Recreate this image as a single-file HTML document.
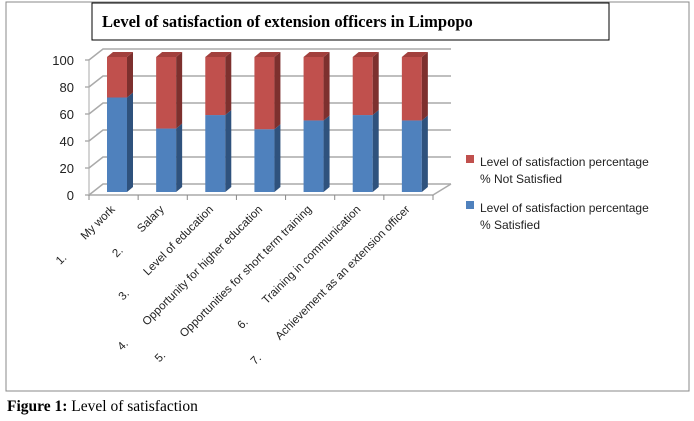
<!DOCTYPE html>
<html><head><meta charset="utf-8"><style>
body{margin:0;background:#fff;width:694px;height:421px;overflow:hidden}
svg{display:block}
</style></head><body>
<svg width="694" height="421" id="svg">
<rect x="6" y="2" width="683" height="389" fill="#fff" stroke="#888"/>
<rect x="92" y="3" width="517" height="37" fill="#fff" stroke="#000"/>
<text x="102" y="27" font-family="Liberation Serif, serif" font-weight="bold" font-size="16.5">Level of satisfaction of extension officers in Limpopo</text>
<g id="plot"></g>
<rect x="466" y="155" width="8" height="8" fill="#c0504d"/>
<text x="480" y="166" font-family="Liberation Sans, sans-serif" font-size="12" fill="#222"><tspan x="480">Level of satisfaction percentage</tspan><tspan x="480" dy="17">% Not Satisfied</tspan></text>
<rect x="466" y="201" width="8" height="8" fill="#4f81bd"/>
<text x="480" y="212" font-family="Liberation Sans, sans-serif" font-size="12" fill="#222"><tspan x="480">Level of satisfaction percentage</tspan><tspan x="480" dy="17">% Satisfied</tspan></text>
<text x="7" y="411" font-family="Liberation Serif, serif" font-size="15.5"><tspan font-weight="bold">Figure 1:</tspan> Level of satisfaction</text>
</svg>
<script>
const categories=["1.\u00a0\u00a0\u00a0\u00a0\u00a0\u00a0\u00a0\u00a0My work","2.\u00a0\u00a0\u00a0\u00a0\u00a0\u00a0\u00a0\u00a0Salary","3.\u00a0\u00a0\u00a0\u00a0\u00a0\u00a0\u00a0\u00a0Level of education","4.\u00a0\u00a0\u00a0\u00a0\u00a0\u00a0\u00a0\u00a0Opportunity for higher education","5.\u00a0\u00a0\u00a0\u00a0\u00a0\u00a0\u00a0\u00a0Opportunities for short term training","6.\u00a0\u00a0\u00a0\u00a0\u00a0\u00a0\u00a0\u00a0Training in communication","7.\u00a0\u00a0\u00a0\u00a0\u00a0\u00a0\u00a0\u00a0Achievement as an extension officer"];
const satisfied=[70,47,57,46.5,53,57,53];
const notSatisfied=[30,53,43,53.5,47,43,47];
const yTicks=[0,20,40,60,80,100];
const NS="http://www.w3.org/2000/svg";
const g=document.getElementById('plot');
const x0=89,x1=433,yb=195,ppu=1.35,dx=14,dy=-11,catW=(x1-x0)/categories.length;
function y(v){return yb-v*ppu;}
function mk(t,a,p){const e=document.createElementNS(NS,t);for(const k in a)e.setAttribute(k,a[k]);(p||g).appendChild(e);return e;}
yTicks.forEach((v,i)=>{
 const l=mk('polyline',{points:`${x0},${y(v)} ${x0+dx},${y(v)+dy} ${x1+18},${y(v)+dy}`,fill:'none',stroke:'#aaa','stroke-width':1.5});
 
 
 const t=mk('text',{x:x0-15,y:y(v)+5,'text-anchor':'end','font-family':'Liberation Sans, sans-serif','font-size':13,fill:'#222'});
 t.textContent=v;
 
 
 mk('line',{x1:x0-4,x2:x0,y1:y(v),y2:y(v),stroke:'#888'});
});
mk('line',{x1:x0,y1:yb,x2:x0,y2:y(100),stroke:'#aaa'});
mk('polyline',{points:`${x0},${yb} ${x1},${yb} ${x1+18},${yb+dy}`,fill:'none',stroke:'#aaa','stroke-width':1.5});
function bar(bx,v0,v1,front,side,top,name){
 const w=20,sx=6,sy=-5,yt=y(v1)-3,ybt=y(v0)-3;
 const f=mk('rect',{x:bx,y:yt,width:w,height:ybt-yt,fill:front});
 
 
 mk('polygon',{points:`${bx+w},${yt} ${bx+w+sx},${yt+sy} ${bx+w+sx},${ybt+sy} ${bx+w},${ybt}`,fill:side});
 if(top) mk('polygon',{points:`${bx},${yt} ${bx+sx},${yt+sy} ${bx+w+sx},${yt+sy} ${bx+w},${yt}`,fill:top});
}
categories.forEach((c,i)=>{
 const cx=x0+catW*i;
 mk('line',{x1:cx,x2:cx,y1:yb,y2:yb+5,stroke:'#888'});
 const bx=cx+18;
 bar(bx,0,satisfied[i],'#4f81bd','#2f527d',null,'bar-satisfied');
 bar(bx,satisfied[i],satisfied[i]+notSatisfied[i],'#c0504d','#7d302e','#a2403d','bar-not-satisfied');
 const mid=cx+catW/2+2,ty=yb+15;
 const t=mk('text',{x:mid,y:ty,'text-anchor':'end','font-family':'Liberation Sans, sans-serif','font-size':11.5,fill:'#222',transform:`rotate(-45 ${mid} ${ty})`});
 t.textContent=c;
 
 
});
mk('line',{x1:x1,x2:x1,y1:yb,y2:yb+5,stroke:'#888'});
</script>
</body></html>
